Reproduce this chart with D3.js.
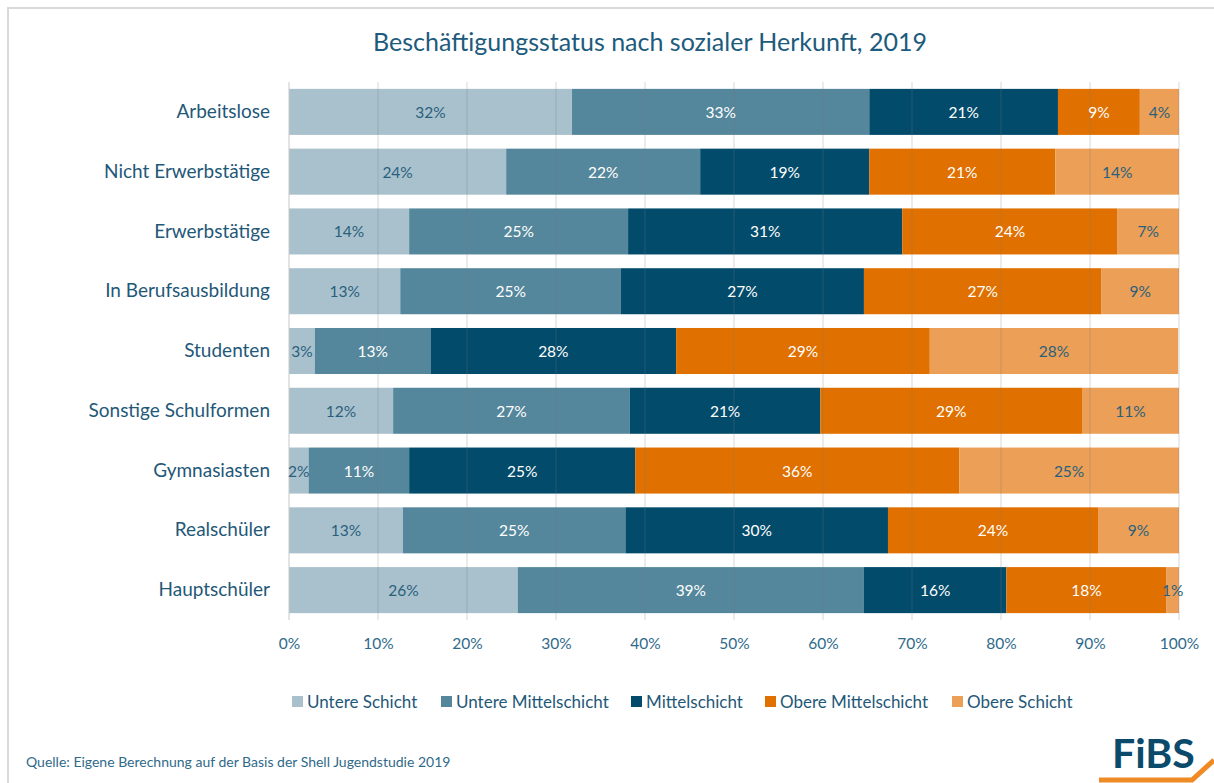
<!DOCTYPE html>
<html>
<head>
<meta charset="utf-8">
<script src="https://cdn.jsdelivr.net/npm/d3@7"></script>
<style>
  body { margin: 0; background: #fff; }
  svg text { font-family: Lato, "Open Sans", sans-serif; }
</style>
</head>
<body>
<svg id="chart" width="1214" height="783"></svg>
<script>
const categories = ["Arbeitslose", "Nicht Erwerbstätige", "Erwerbstätige", "In Berufsausbildung",
  "Studenten", "Sonstige Schulformen", "Gymnasiasten", "Realschüler", "Hauptschüler"];

const seriesNames = ["Untere Schicht", "Untere Mittelschicht", "Mittelschicht", "Obere Mittelschicht", "Obere Schicht"];

// share per category, in series order
const untereSchicht = [31.8, 24.4, 13.5, 12.5, 2.9, 11.7, 2.2, 12.8, 25.7];
const untereMittel  = [33.4, 21.8, 24.6, 24.8, 13.0, 26.6, 11.3, 25.0, 38.9];
const mittel        = [21.2, 19.0, 30.8, 27.3, 27.6, 21.4, 25.4, 29.5, 16.0];
const obereMittel   = [9.2, 20.9, 24.2, 26.7, 28.5, 29.4, 36.4, 23.6, 18.0];
const obereSchicht  = [4.4, 13.9, 6.9, 8.7, 27.9, 10.9, 24.7, 9.1, 1.4];

const xTicks = [0, 10, 20, 30, 40, 50, 60, 70, 80, 90, 100];

const colors = ["#a9c1cd", "#55879c", "#024b6b", "#e07000", "#eb9f57"];
const labelColors = ["#2a5f7c", "#ffffff", "#ffffff", "#ffffff", "#2a5f7c"];

const svg = d3.select("#chart");

// frame
svg.append("path")
  .attr("d", "M8,783 L8,8 L1214,8")
  .attr("fill", "none")
  .attr("stroke", "#d9d9d9")
  .attr("stroke-width", 2);

svg.append("text")
  .attr("x", 650)
  .attr("y", 51)
  .attr("text-anchor", "middle")
  .attr("font-size", 25)
  .attr("fill", "#1d5b7d")
  .text("Beschäftigungsstatus nach sozialer Herkunft, 2019");

const rows = categories.map((c, i) => ({
  cat: c,
  vals: [untereSchicht[i], untereMittel[i], mittel[i], obereMittel[i], obereSchicht[i]]
}));

const x = d3.scaleLinear().domain([0, 100]).range([289, 1179]);
const y = d3.scaleBand().domain(categories).range([82, 620]).paddingInner(0.23).paddingOuter(0.115);

const stackData = rows.map(r => {
  const o = { cat: r.cat };
  seriesNames.forEach((s, j) => o[s] = r.vals[j]);
  return o;
});
const stack = d3.stack().keys(seriesNames)(stackData);

const layers = svg.append("g").selectAll("g")
  .data(stack)
  .join("g")
  .attr("fill", (d, i) => colors[i]);

layers.selectAll("rect")
  .data(d => d)
  .join("rect")
  .attr("x", d => x(d[0]))
  .attr("y", d => y(d.data.cat))
  .attr("width", d => x(d[1]) - x(d[0]))
  .attr("height", y.bandwidth());

// gridlines over the bars
svg.append("g").selectAll("line")
  .data(xTicks)
  .join("line")
  .attr("x1", d => x(d)).attr("x2", d => x(d))
  .attr("y1", 82).attr("y2", 620)
  .attr("stroke", d => d === 0 ? "#c8c8c8" : "rgba(120,120,120,0.3)")
  .attr("stroke-width", 1);

// value labels
stack.forEach((layer, i) => {
  svg.append("g").selectAll("text")
    .data(layer)
    .join("text")
    .attr("x", d => (x(d[0]) + x(d[1])) / 2)
    .attr("y", d => y(d.data.cat) + y.bandwidth() / 2 + 6)
    .attr("text-anchor", "middle")
    .attr("font-size", 15.5)
    .attr("fill", labelColors[i])
    .text(d => Math.round(d[1] - d[0]) + "%");
});

// category axis
const yAxis = svg.append("g")
  .attr("transform", "translate(289,0)")
  .call(d3.axisLeft(y).tickSize(0).tickPadding(19));
yAxis.select(".domain").remove();
yAxis.selectAll("text")
  .attr("font-size", 19)
  .attr("fill", "#1f5878")
  .attr("font-family", "Lato, sans-serif");

// percentage axis
const xAxis = svg.append("g")
  .attr("transform", "translate(0,620)")
  .call(d3.axisBottom(x).tickValues(xTicks).tickSize(0).tickPadding(18).tickFormat(d => d + "%"));
xAxis.select(".domain").remove();
xAxis.selectAll("text")
  .attr("font-size", 15.5)
  .attr("fill", "#2f6a8a")
  .attr("font-family", "Lato, sans-serif");

// legend
const legendX = [292, 441, 631, 765, 952];
const legend = svg.append("g").selectAll("g")
  .data(seriesNames)
  .join("g")
  .attr("transform", (d, i) => `translate(${legendX[i]},702)`);
legend.append("rect")
  .attr("x", 0).attr("y", -6)
  .attr("width", 11).attr("height", 11)
  .attr("fill", (d, i) => colors[i]);
legend.append("text")
  .attr("x", 15).attr("y", 6)
  .attr("font-size", 17)
  .attr("fill", "#1f5878")
  .text(d => d);

svg.append("text")
  .attr("x", 26)
  .attr("y", 767)
  .attr("font-size", 14)
  .attr("fill", "#2f6a8a")
  .text("Quelle: Eigene Berechnung auf der Basis der Shell Jugendstudie 2019");

// logo
svg.append("text")
  .attr("x", 1112)
  .attr("y", 768)
  .attr("font-size", 41)
  .attr("font-weight", "bold")
  .attr("fill", "#0b4a6b")
  .attr("font-family", "'Open Sans', sans-serif")
  .text("FiBS");
svg.append("path")
  .attr("d", "M1099,780 L1192,780 L1214,760")
  .attr("fill", "none")
  .attr("stroke", "#f08a24")
  .attr("stroke-width", 5);
</script>
</body>
</html>
